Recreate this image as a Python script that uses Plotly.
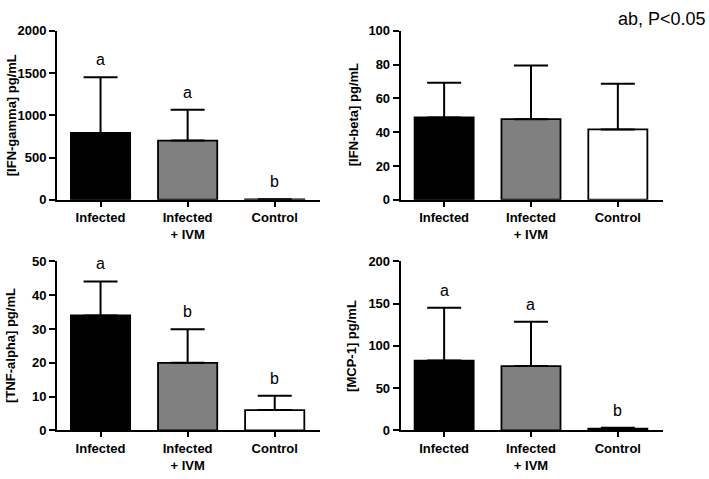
import plotly.graph_objects as go

# ---- data ----
categories = ["Infected", "Infected + IVM", "Control"]
tick_labels = ["Infected", "Infected<br>+ IVM", "Control"]
bar_colors = ["#000000", "#808080", "#ffffff"]

ifn_gamma_mean = [790, 700, 5]
ifn_gamma_err = [660, 365, 0]
ifn_gamma_letters = ["a", "a", "b"]

ifn_beta_mean = [48.7, 47.7, 41.6]
ifn_beta_err = [20.5, 31.7, 27.1]

tnf_alpha_mean = [34, 20, 6]
tnf_alpha_err = [10.1, 9.9, 4.2]
tnf_alpha_letters = ["a", "b", "b"]

mcp1_mean = [82.6, 76.1, 2]
mcp1_err = [62.7, 52.4, 1]
mcp1_letters = ["a", "a", "b"]

y_titles = ["[IFN-gamma] pg/mL", "[IFN-beta] pg/mL", "[TNF-alpha] pg/mL", "[MCP-1] pg/mL"]
y_max = [2000, 100, 50, 200]
y_dtick = [500, 20, 10, 50]
note_text = "ab, P<0.05"

W, H = 709, 479
FONT = "Liberation Sans, Arial, sans-serif"

panels = [
    (ifn_gamma_mean, ifn_gamma_err, ifn_gamma_letters),
    (ifn_beta_mean, ifn_beta_err, None),
    (tnf_alpha_mean, tnf_alpha_err, tnf_alpha_letters),
    (mcp1_mean, mcp1_err, mcp1_letters),
]

# pixel layout of each panel: (x_left, x_right, y_top, y_bottom), title x
boxes = [
    (57, 320, 24.5, 199, 11),
    (400.7, 663, 24.5, 199, 353),
    (57, 320, 262.7, 437, 11),
    (400.7, 663, 262.7, 437, 352),
]

fig = go.Figure()
layout = dict(
    width=W, height=H,
    margin=dict(l=0, r=0, t=0, b=0),
    paper_bgcolor="white", plot_bgcolor="white",
    showlegend=False,
    font=dict(family=FONT, color="black"),
)
annotations = []

for i, ((mean, err, letters), box) in enumerate(zip(panels, boxes)):
    n = "" if i == 0 else str(i + 1)
    xl, xr, yt, yb, tx = box
    fig.add_trace(go.Bar(
        x=categories, y=mean,
        width=0.68,
        marker=dict(color=bar_colors, line=dict(color="black", width=1.8)),
        error_y=dict(type="data", symmetric=False, array=err,
                     arrayminus=[0] * len(err), color="black",
                     thickness=2, width=17),
        xaxis="x" + n, yaxis="y" + n,
        hoverinfo="skip",
    ))
    layout["xaxis" + n] = dict(
        domain=[xl / W, xr / W], anchor="y" + n,
        type="category", range=[-0.5, 2.52],
        tickvals=categories, ticktext=tick_labels,
        showline=True, linecolor="black", linewidth=2,
        ticks="outside", ticklen=5, tickwidth=2, tickcolor="black",
        tickfont=dict(family=FONT, size=13, color="black", weight="bold"),
        showgrid=False, zeroline=False, fixedrange=True,
    )
    layout["yaxis" + n] = dict(
        domain=[1 - yb / H, 1 - yt / H], anchor="x" + n,
        range=[0, y_max[i]], dtick=y_dtick[i],
        showline=True, linecolor="black", linewidth=2,
        ticks="outside", ticklen=6, tickwidth=2, tickcolor="black",
        tickfont=dict(family=FONT, size=13, color="black", weight="bold"),
        showgrid=False, zeroline=False, fixedrange=True,
    )
    annotations.append(dict(
        text=y_titles[i], textangle=-90,
        xref="paper", yref="paper",
        x=tx / W, y=1 - (yt + yb) / 2 / H,
        xanchor="center", yanchor="middle", showarrow=False,
        font=dict(family=FONT, size=13, color="black", weight="bold"),
    ))
    if letters:
        for c, m, e, L in zip(categories, mean, err, letters):
            annotations.append(dict(
                text=L, x=c, y=m + e, xref="x" + n, yref="y" + n,
                xanchor="center", yanchor="bottom", yshift=7,
                showarrow=False,
                font=dict(family=FONT, size=16, color="black"),
            ))

annotations.append(dict(
    text=note_text, xref="paper", yref="paper",
    x=708 / W, y=1.0, xanchor="right", yanchor="top",
    showarrow=False, font=dict(family=FONT, size=18, color="black"),
))
layout["annotations"] = annotations
fig.update_layout(**layout)
fig.write_html(
    "out.html",
    config={"displayModeBar": False},
    post_script="document.body.style.margin='0';document.body.style.overflow='hidden';",
)
